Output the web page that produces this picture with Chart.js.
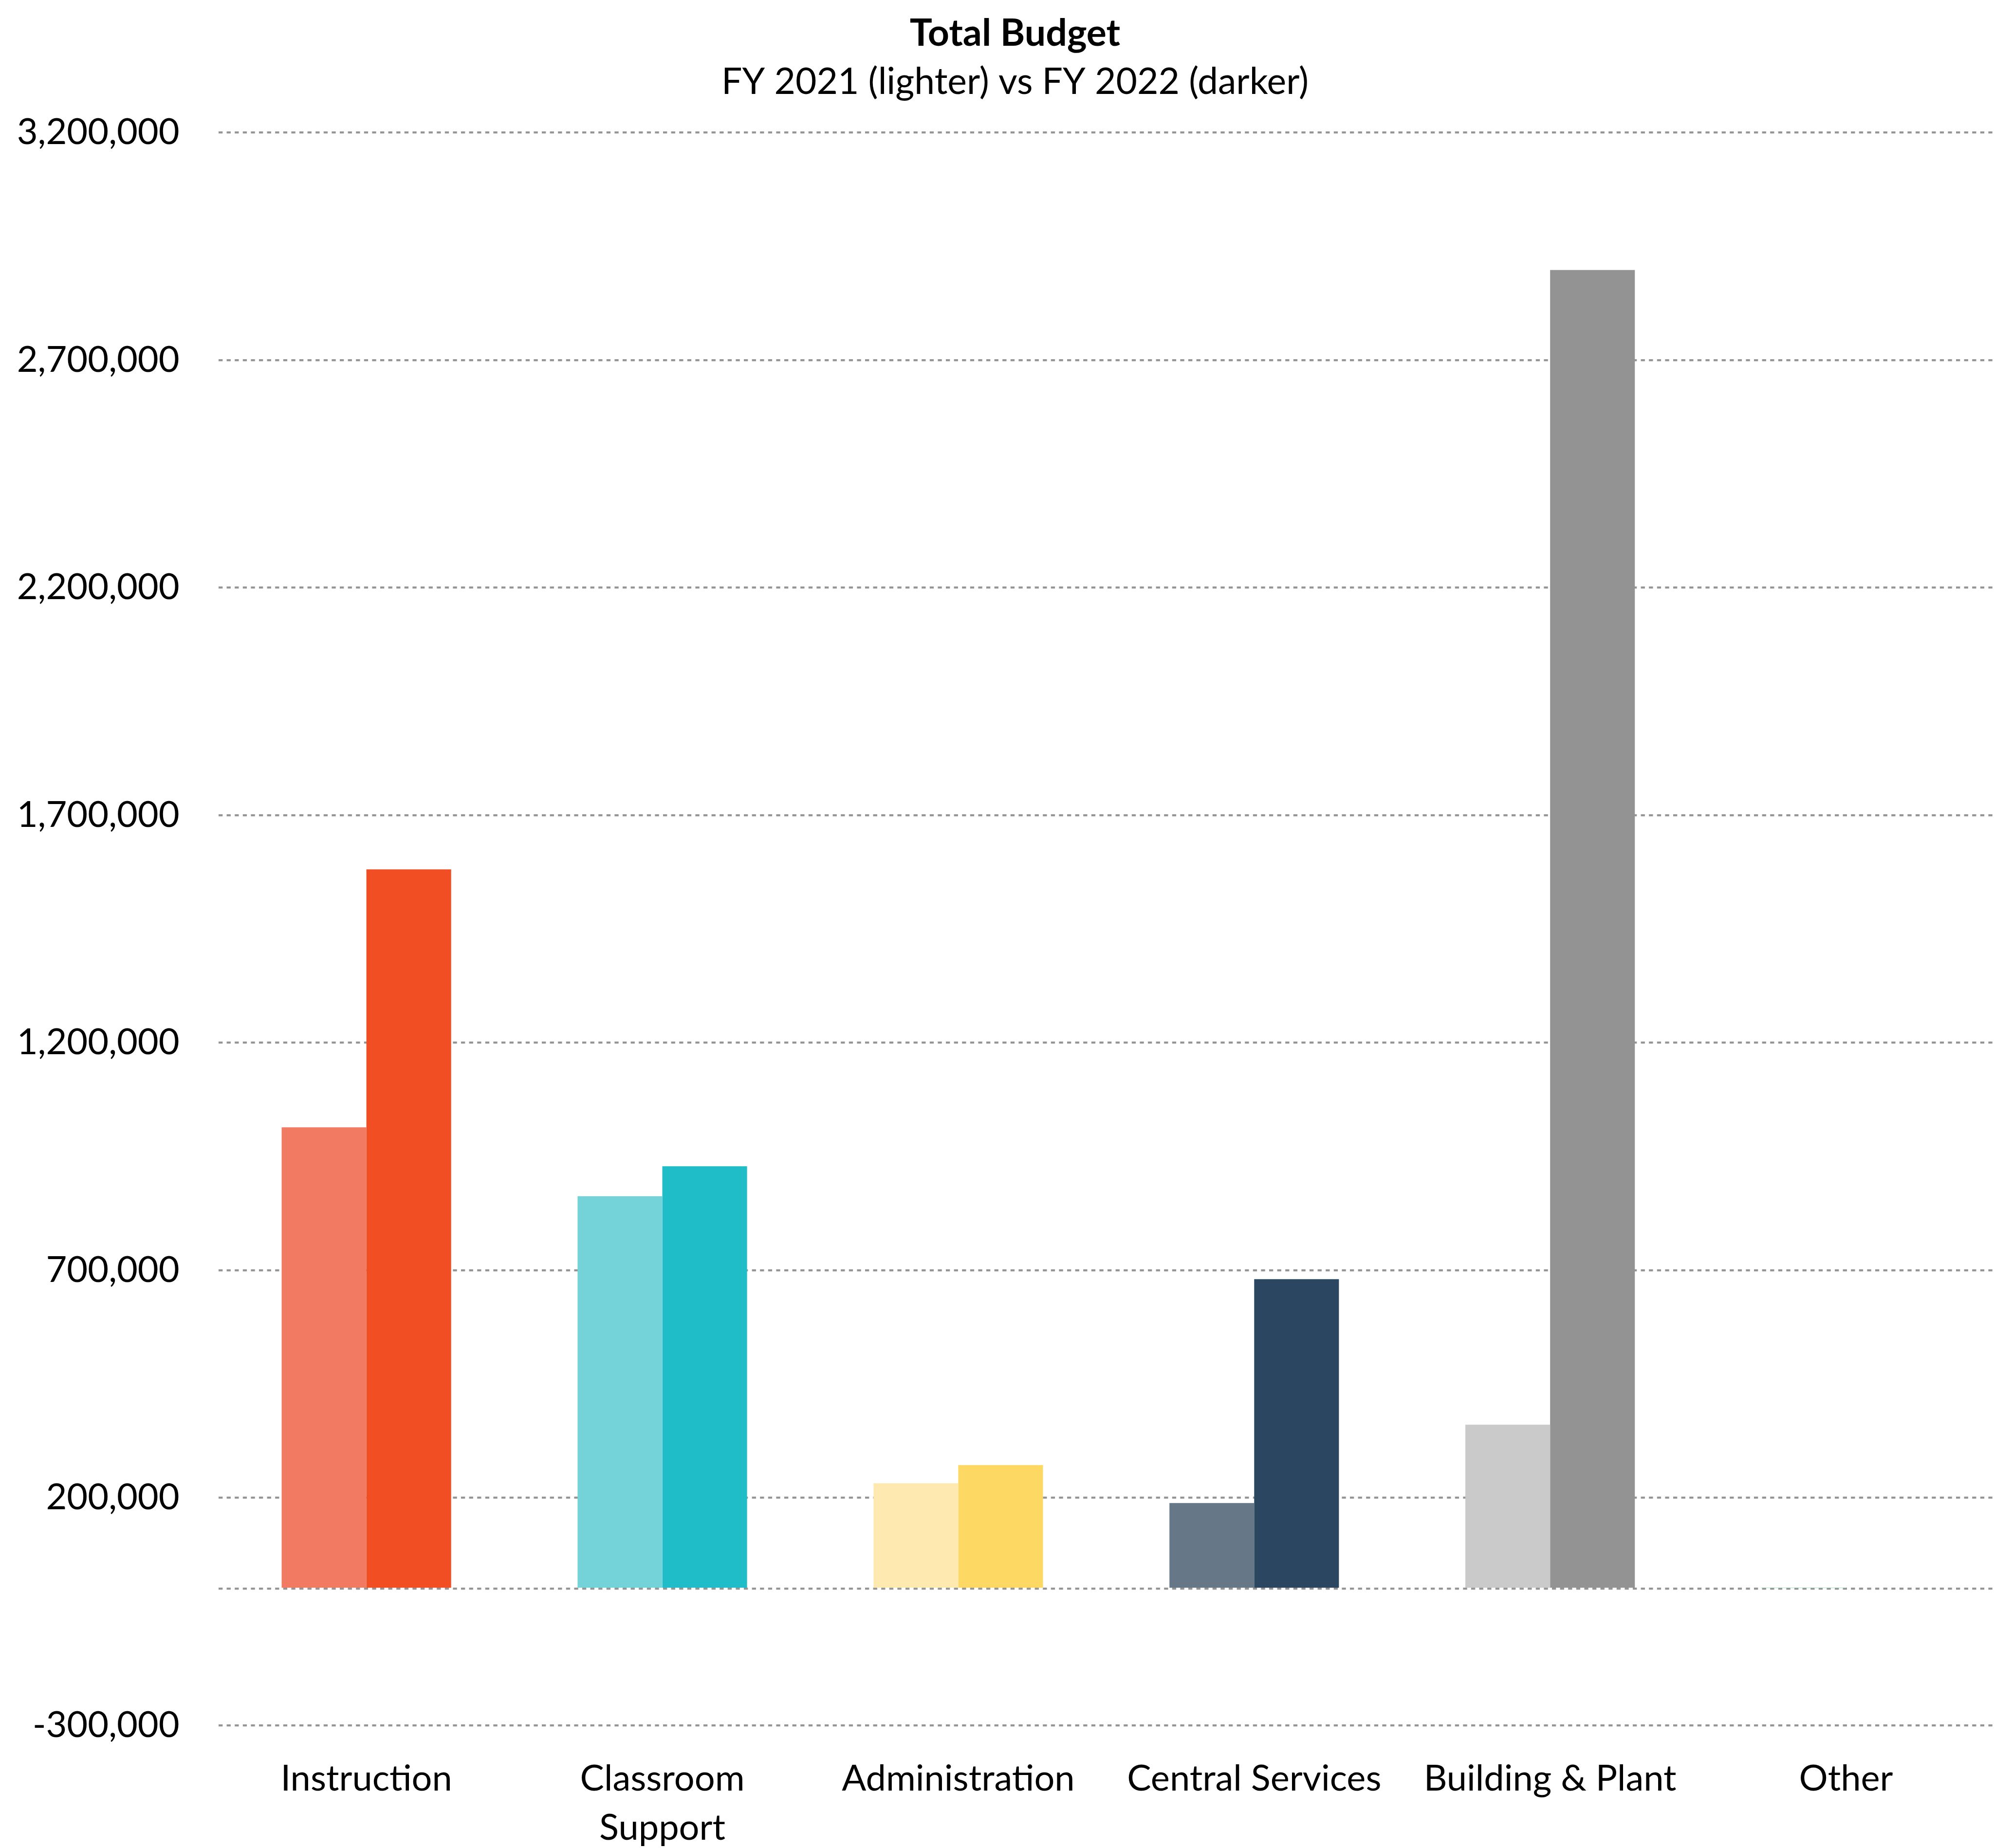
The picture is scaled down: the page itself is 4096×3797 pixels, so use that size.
<!DOCTYPE html>
<html>
<head>
<meta charset="utf-8">
<script src="https://cdn.jsdelivr.net/npm/chart.js@4/dist/chart.umd.min.js"></script>
<style>
  html, body { margin: 0; padding: 0; background: #ffffff; }
  canvas { display: block; }
</style>
</head>
<body>
<canvas id="c" width="4096" height="3797"></canvas>
<script>
const categories = ['Instruction', ['Classroom', 'Support'], 'Administration', 'Central Services', 'Building & Plant', 'Other'];
const fy2021 = [1014000, 862800, 232000, 188500, 360700, 1700];
const fy2022 = [1581000, 928600, 271800, 680400, 2898000, 2500];
const colors2021 = ['#F27A62', '#73D3D9', '#FEEAB0', '#667787', '#CACACA', '#9CDAB4'];
const colors2022 = ['#F14E24', '#1EBDC8', '#FDD862', '#2A4660', '#939393', '#6DC994'];
const yMin = -300000;
const yMax = 3200000;
const yStep = 500000;
const titleText = 'Total Budget';
const subtitleText = 'FY 2021 (lighter) vs FY 2022 (darker)';

const FONT = 'Lato, "Open Sans", sans-serif';

// Shift the title/subtitle boxes so they are centred slightly right of the canvas centre, as in the original
const titleShift = {
  id: 'titleShift',
  afterLayout(chart) {
    chart.boxes.forEach(b => {
      if (b.options && b.options.text !== undefined && b.isHorizontal && b.isHorizontal()) {
        b.left = b.left + 74;
      }
    });
  }
};

new Chart(document.getElementById('c'), {
  type: 'bar',
  data: {
    labels: categories,
    datasets: [
      { label: 'FY 2021', data: fy2021, backgroundColor: colors2021, borderWidth: 0 },
      { label: 'FY 2022', data: fy2022, backgroundColor: colors2022, borderWidth: 0 }
    ]
  },
  plugins: [titleShift],
  options: {
    responsive: false,
    animation: false,
    devicePixelRatio: 1,
    layout: { padding: { left: 0, right: 0, top: 0, bottom: 0 } },
    datasets: { bar: { categoryPercentage: 0.5727, barPercentage: 1.0 } },
    plugins: {
      legend: { display: false },
      tooltip: { enabled: false },
      title: {
        display: true,
        text: titleText,
        color: '#000000',
        font: { family: FONT, size: 77, weight: 'bold', lineHeight: 1.2 },
        padding: { top: 23, bottom: 0 }
      },
      subtitle: {
        display: true,
        text: subtitleText,
        color: '#000000',
        font: { family: FONT, size: 75, weight: 'normal', lineHeight: 1.2 },
        padding: { top: 8.4, bottom: 58.6 }
      }
    },
    scales: {
      x: {
        grid: { display: false, drawTicks: false },
        border: { display: false },
        ticks: {
          color: '#000000',
          font: { family: FONT, size: 74, lineHeight: 1.365 },
          padding: 60,
          maxRotation: 0,
          minRotation: 0,
          autoSkip: false
        },
        afterFit: (scale) => { scale.height = 252; }
      },
      y: {
        min: yMin,
        max: yMax,
        grid: { color: '#959595', lineWidth: 4.3, drawTicks: false, borderDash: [8.3, 8.3] },
        border: { display: false, dash: [8.3, 8.3] },
        ticks: {
          stepSize: yStep,
          color: '#000000',
          font: { family: FONT, size: 74 },
          padding: 80,
          callback: (v) => (v === 0 ? '' : Number(v).toLocaleString('en-US'))
        },
        afterBuildTicks: (scale) => {
          if (!scale.ticks.some(t => t.value === 0)) {
            scale.ticks.push({ value: 0 });
            scale.ticks.sort((a, b) => a.value - b.value);
          }
        },
        afterFit: (scale) => { scale.width = 448.7; }
      }
    }
  }
});
</script>
</body>
</html>
